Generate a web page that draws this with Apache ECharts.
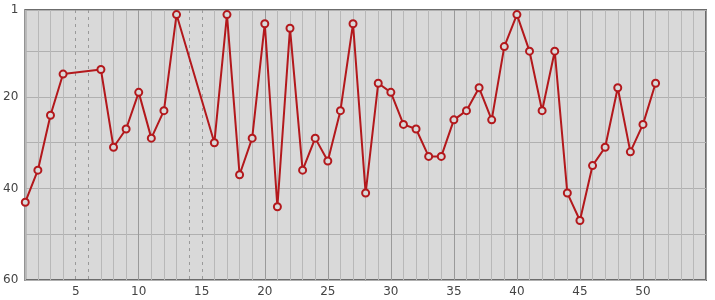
<!DOCTYPE html>
<html>
<head>
<meta charset="utf-8">
<script src="https://cdn.jsdelivr.net/npm/echarts@6/dist/echarts.min.js"></script>
<style>html,body{margin:0;padding:0;background:#fff}#c{width:715px;height:300px}</style>
</head>
<body>
<div id="c"></div>
<script>
// x positions (days) and their values; missing x positions are gaps
var xValues = [1,2,3,4,7,8,9,10,11,12,13,16,17,18,19,20,21,22,23,24,25,26,27,28,29,30,31,32,33,34,35,36,37,38,39,40,41,42,43,44,45,46,47,48,49,50,51];
var yValues = [43,36,24,15,14,31,27,19,29,23,2,30,2,37,29,4,44,5,36,29,34,23,4,41,17,19,26,27,33,33,25,23,18,25,9,2,10,23,10,41,47,35,31,18,32,26,17];
var xTickLabels = [5,10,15,20,25,30,35,40,45,50];
var yTickLabels = [1,20,40,60];
var yGridValues = [1,10,20,30,40,50,60];

var X_MIN = 1, X_MAX = 55;
var present = {};
xValues.forEach(function(v){ present[v] = true; });
var gapLines = [];
for (var i = xValues[0]; i <= xValues[xValues.length-1]; i++) if (!present[i]) gapLines.push(i);

var vColors = [];
for (var v = X_MIN; v <= X_MAX; v++) {
  if (gapLines.indexOf(v) >= 0) vColors.push('rgba(0,0,0,0)');
  else if (v % 5 === 0) vColors.push('#9a9a9a');
  else vColors.push('#b8b8b8');
}

var chart = echarts.init(document.getElementById('c'), null, {renderer: 'canvas'});
chart.setOption({
  animation: false,
  grid: {left: 25, right: 9, top: 10, bottom: 20, show: true, backgroundColor: '#d9d9d9', borderColor: '#6c6c6c', borderWidth: 2},
  xAxis: {
    type: 'value', min: X_MIN, max: X_MAX, interval: 1,
    axisLine: {show: false}, axisTick: {show: false},
    axisLabel: {
      color: '#444', fontFamily: 'DejaVu Sans', fontSize: 12, margin: 6,
      formatter: function(v){ return xTickLabels.indexOf(v) >= 0 ? String(v) : ''; }
    },
    splitLine: {show: true, lineStyle: {color: vColors, width: 1}}
  },
  yAxis: {
    type: 'value', inverse: true, min: 1, max: 60,
    axisLine: {show: false},
    axisTick: {show: false, customValues: yGridValues},
    axisLabel: {
      color: '#444', fontFamily: 'DejaVu Sans', fontSize: 12, margin: 7,
      customValues: yTickLabels
    },
    splitLine: {show: true, lineStyle: {color: '#b0b0b0', width: 1}}
  },
  series: [{
    type: 'line',
    data: xValues.map(function(x, i){ return [x, yValues[i]]; }),
    symbol: 'circle', symbolSize: 7,
    lineStyle: {color: '#b3181c', width: 2},
    itemStyle: {color: '#d9d9d9', borderColor: '#b3181c', borderWidth: 2},
    markLine: {
      silent: true, symbol: 'none', label: {show: false},
      lineStyle: {color: '#9a9a9a', type: [3, 4], width: 1},
      data: gapLines.map(function(g){ return {xAxis: g}; })
    },
    z: 5
  }]
});
</script>
</body>
</html>
